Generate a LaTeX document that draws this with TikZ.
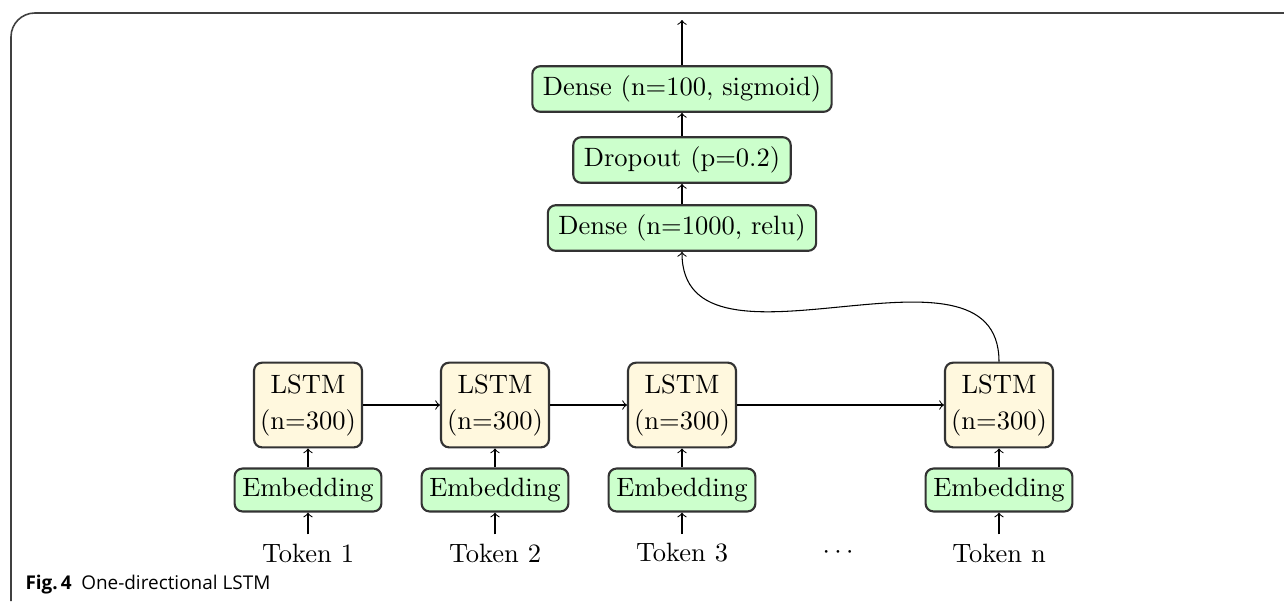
\documentclass[tikz,border=0pt]{standalone}
\usepackage{fontspec}
\newfontfamily\capfont{Open Sans}
\usepackage{tikz}
\usetikzlibrary{positioning}
\definecolor{lstmfill}{RGB}{255,248,222}
\definecolor{densefill}{RGB}{204,255,204}

\begin{document}
\begin{tikzpicture}[x=0.3774pt,y=-0.3774pt,
    layer/.style={draw=black!80,thick,rounded corners=3pt,fill=densefill,inner xsep=2.9pt,inner ysep=3.6pt},
    dense/.style={layer,inner xsep=4pt},
    lstm/.style={layer,fill=lstmfill,align=center,inner xsep=2.3pt,inner ysep=4.4pt},
    >=to]
  \useasboundingbox (0,0) rectangle (1284,601);
  \draw [black!75,line width=0.6pt,rounded corners=9pt] (11,601) -- (11,13) -- (1284,13);

  \node[dense] (dense2) at (682,89) {Dense (n=100, sigmoid)};
  \node[dense] (drop) at (682,160) {Dropout (p=0.2)};
  \node[dense] (dense1) at (682,228) {Dense (n=1000, relu)};
  \coordinate (out) at (682,20);

  \foreach \i/\x/\t in {1/308/1, 2/495/2, 3/682/3, 4/999/n} {
    \node[lstm] (lstm\i) at (\x,405) {LSTM\\[1.6pt](n=300)};
    \node[layer] (emb\i) at (\x,490) {Embedding};
    \node (tok\i) at (\x,553) {Token \t};
    \draw[->] (tok\i) -- (emb\i);
    \draw[->] (emb\i) -- (lstm\i);
  }
  \node (dots) at (838,553) {$\cdots$};

  \draw[->] (lstm1) -- (lstm2);
  \draw[->] (lstm2) -- (lstm3);
  \draw[->] (lstm3) -- (lstm4);
  \draw[->] (lstm4.north) .. controls +(0,-140) and +(0,140) .. (dense1.south);
  \draw[->] (dense1) -- (drop);
  \draw[->] (drop) -- (dense2);
  \draw[->] (dense2) -- (out);

  \node[anchor=base west,inner sep=0,font=\capfont\fontsize{7.15}{8.5}\selectfont] (caption) at (25,589)
    {\textbf{Fig.\,4}\hspace{0.5em}One-directional LSTM};
\end{tikzpicture}
\end{document}
